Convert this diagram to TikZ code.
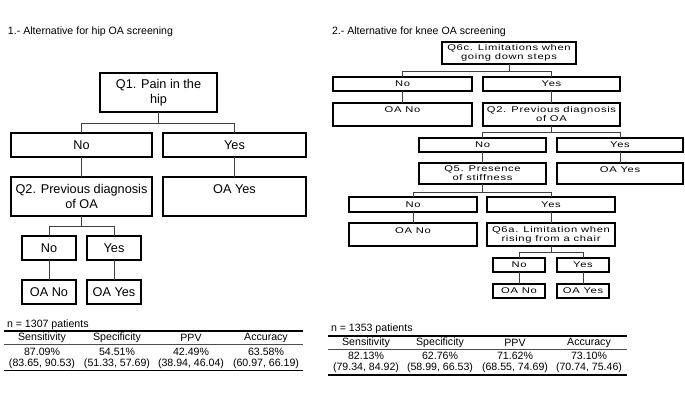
\documentclass[tikz,border=0pt]{standalone}
\usepackage{fontspec}
\setmainfont{Liberation Sans}
\newfontfamily\widefont[FakeStretch=1.35,LetterSpace=8]{Liberation Sans}
\begin{document}
\begin{tikzpicture}[x=1pt,y=-1pt,
  every node/.style={inner sep=0pt,outer sep=0pt},
  hbox/.style={draw,line width=1.8pt,anchor=north west},
  kbox/.style={draw,line width=1.3pt,anchor=north west},
  conn/.style={line width=0.8pt,draw=black!75},
  ltxt/.style={font=\fontsize{12.7}{14.5}\selectfont,align=center},
  ktxt/.style={font=\fontsize{8.3}{9}\selectfont\widefont,align=center},
  ttxt/.style={font=\fontsize{10.6}{12}\selectfont},
  trule/.style={line width=1.3pt},
  tmid/.style={line width=0.7pt,draw=black!70}]
\useasboundingbox (0,0) rectangle (685,403);
% ---------- titles
\node[ttxt,anchor=west] (t1) at (8,32) {1.- Alternative for hip OA screening};
\node[ttxt,anchor=west] (t2) at (332,32) {2.- Alternative for knee OA screening};
% ---------- left tree boxes
\node[hbox,minimum width=117pt,minimum height=39pt] (lq1) at (100,73) {};
\node[ltxt] (lq1t) at (lq1.center) {Q1. Pain in the\\hip};
\node[hbox,minimum width=141pt,minimum height=24pt] (lno) at (11,133) {};
\node[ltxt] (lnot) at (lno.center) {No};
\node[hbox,minimum width=143pt,minimum height=24pt] (lyes) at (163,133) {};
\node[ltxt] (lyest) at (lyes.center) {Yes};
\node[hbox,minimum width=141pt,minimum height=39pt] (lq2) at (11,177) {};
\node[ltxt] (lq2t) at (lq2.center) {Q2. Previous diagnosis\\of OA};
\node[hbox,minimum width=143pt,minimum height=39pt] (loay) at (163,177) {};
\node[ltxt] (loayt) at (234.5,189) {OA Yes};
\node[hbox,minimum width=54pt,minimum height=24pt] (lno2) at (22,236) {};
\node[ltxt] (lno2t) at (lno2.center) {No};
\node[hbox,minimum width=54pt,minimum height=24pt] (lyes2) at (87,236) {};
\node[ltxt] (lyes2t) at (lyes2.center) {Yes};
\node[hbox,minimum width=54pt,minimum height=24pt] (loan) at (22,280) {};
\node[ltxt] (loant) at (loan.center) {OA No};
\node[hbox,minimum width=54pt,minimum height=24pt] (loay2) at (87,280) {};
\node[ltxt] (loay2t) at (loay2.center) {OA Yes};
% left connectors
\coordinate (lj1) at (158.5,123);
\draw[conn] (lq1.south) -- (lj1);
\draw[conn] (lj1) -| (lno.north);
\draw[conn] (lj1) -| (lyes.north);
\draw[conn] (lno.south) -- (lq2.north);
\draw[conn] (lyes.south) -- (loay.north);
\coordinate (lj2) at (81.5,226);
\draw[conn] (lq2.south) -- (lj2);
\draw[conn] (lj2) -| (lno2.north);
\draw[conn] (lj2) -| (lyes2.north);
\draw[conn] (lno2.south) -- (loan.north);
\draw[conn] (lyes2.south) -- (loay2.north);
% ---------- right tree boxes
\node[kbox,minimum width=134pt,minimum height=22pt] (rq6c) at (442,42) {};
\node[ktxt] (rq6ct) at (rq6c.center) {Q6c. Limitations when\\going down steps};
\node[kbox,minimum width=139pt,minimum height=14pt] (rno) at (333,77) {};
\node[ktxt] (rnot) at (rno.center) {No};
\node[kbox,minimum width=137pt,minimum height=14pt] (ryes) at (483,77) {};
\node[ktxt] (ryest) at (ryes.center) {Yes};
\node[kbox,minimum width=139pt,minimum height=23pt] (roan) at (333,103) {};
\node[ktxt] (roant) at (402.5,110) {OA No};
\node[kbox,minimum width=137pt,minimum height=23pt] (rq2) at (483,103) {};
\node[ktxt] (rq2t) at (rq2.center) {Q2. Previous diagnosis\\of OA};
\node[kbox,minimum width=127pt,minimum height=14pt] (rno2) at (419,138) {};
\node[ktxt] (rno2t) at (rno2.center) {No};
\node[kbox,minimum width=126pt,minimum height=14pt] (ryes2) at (557,138) {};
\node[ktxt] (ryes2t) at (ryes2.center) {Yes};
\node[kbox,minimum width=127pt,minimum height=21pt] (rq5) at (419,163) {};
\node[ktxt] (rq5t) at (rq5.center) {Q5. Presence\\of stiffness};
\node[kbox,minimum width=126pt,minimum height=21pt] (roay) at (557,163) {};
\node[ktxt] (roayt) at (620,170) {OA Yes};
\node[kbox,minimum width=128pt,minimum height=15pt] (rno3) at (349,197) {};
\node[ktxt] (rno3t) at (rno3.center) {No};
\node[kbox,minimum width=128pt,minimum height=15pt] (ryes3) at (487,197) {};
\node[ktxt] (ryes3t) at (ryes3.center) {Yes};
\node[kbox,minimum width=128pt,minimum height=23pt] (roan3) at (349,223) {};
\node[ktxt] (roan3t) at (413,230.5) {OA No};
\node[kbox,minimum width=128pt,minimum height=23pt] (rq6a) at (487,223) {};
\node[ktxt] (rq6at) at (rq6a.center) {Q6a. Limitation when\\rising from a chair};
\node[kbox,minimum width=52pt,minimum height=14pt] (rno4) at (493,258) {};
\node[ktxt] (rno4t) at (rno4.center) {No};
\node[kbox,minimum width=52pt,minimum height=14pt] (ryes4) at (557,258) {};
\node[ktxt] (ryes4t) at (ryes4.center) {Yes};
\node[kbox,minimum width=52pt,minimum height=14pt] (roan4) at (493,284) {};
\node[ktxt] (roan4t) at (roan4.center) {OA No};
\node[kbox,minimum width=52pt,minimum height=14pt] (roay4) at (557,284) {};
\node[ktxt] (roay4t) at (roay4.center) {OA Yes};
% right connectors
\coordinate (rj1) at (509,71);
\draw[conn] (rq6c.south) -- (rj1);
\draw[conn] (rj1) -| (rno.north);
\draw[conn] (rj1) -| (ryes.north);
\draw[conn] (rno.south) -- (roan.north);
\draw[conn] (ryes.south) -- (rq2.north);
\coordinate (rj2) at (551.5,132);
\draw[conn] (rq2.south) -- (rj2);
\draw[conn] (rj2) -| (rno2.north);
\draw[conn] (rj2) -| (ryes2.north);
\draw[conn] (rno2.south) -- (rq5.north);
\draw[conn] (ryes2.south) -- (roay.north);
\coordinate (rj3) at (482.5,192);
\draw[conn] (rq5.south) -- (rj3);
\draw[conn] (rj3) -| (rno3.north);
\draw[conn] (rj3) -| (ryes3.north);
\draw[conn] (rno3.south) -- (roan3.north);
\draw[conn] (ryes3.south) -- (rq6a.north);
\coordinate (rj4) at (551,252);
\draw[conn] (rq6a.south) -- (rj4);
\draw[conn] (rj4) -| (rno4.north);
\draw[conn] (rj4) -| (ryes4.north);
\draw[conn] (rno4.south) -- (roan4.north);
\draw[conn] (ryes4.south) -- (roay4.north);
% ---------- left table
\node[ttxt,anchor=west] (ln) at (7,325) {n = 1307 patients};
\draw[trule] (4,331) coordinate (lta) -- (303,331) coordinate (ltb);
\draw[tmid] (4,344) coordinate (ltc) -- (303,344) coordinate (ltd);
\draw[trule] (4,370.5) coordinate (lte) -- (303,370.5) coordinate (ltf);
\node[ttxt] (lh1) at (42,338) {Sensitivity};
\node[ttxt] (lh2) at (117,338) {Specificity};
\node[ttxt] (lh3) at (191,338) {PPV};
\node[ttxt] (lh4) at (266,338) {Accuracy};
\node[ttxt] (lv1) at (42,352) {87.09\%};
\node[ttxt] (lv2) at (117,352) {54.51\%};
\node[ttxt] (lv3) at (191,352) {42.49\%};
\node[ttxt] (lv4) at (266,352) {63.58\%};
\node[ttxt] (lc1) at (42,363.5) {(83.65, 90.53)};
\node[ttxt] (lc2) at (117,363.5) {(51.33, 57.69)};
\node[ttxt] (lc3) at (191,363.5) {(38.94, 46.04)};
\node[ttxt] (lc4) at (266,363.5) {(60.97, 66.19)};
% ---------- right table
\node[ttxt,anchor=west] (rn) at (331,329) {n = 1353 patients};
\draw[trule] (328,336) coordinate (rta) -- (627,336) coordinate (rtb);
\draw[tmid] (328,349) coordinate (rtc) -- (627,349) coordinate (rtd);
\draw[trule] (328,375) coordinate (rte) -- (627,375) coordinate (rtf);
\node[ttxt] (rh1) at (366,343) {Sensitivity};
\node[ttxt] (rh2) at (440,343) {Specificity};
\node[ttxt] (rh3) at (515,343) {PPV};
\node[ttxt] (rh4) at (589,343) {Accuracy};
\node[ttxt] (rv1) at (366,356) {82.13\%};
\node[ttxt] (rv2) at (440,356) {62.76\%};
\node[ttxt] (rv3) at (515,356) {71.62\%};
\node[ttxt] (rv4) at (589,356) {73.10\%};
\node[ttxt] (rc1) at (366,368) {(79.34, 84.92)};
\node[ttxt] (rc2) at (440,368) {(58.99, 66.53)};
\node[ttxt] (rc3) at (515,368) {(68.55, 74.69)};
\node[ttxt] (rc4) at (589,368) {(70.74, 75.46)};
\end{tikzpicture}
\end{document}
